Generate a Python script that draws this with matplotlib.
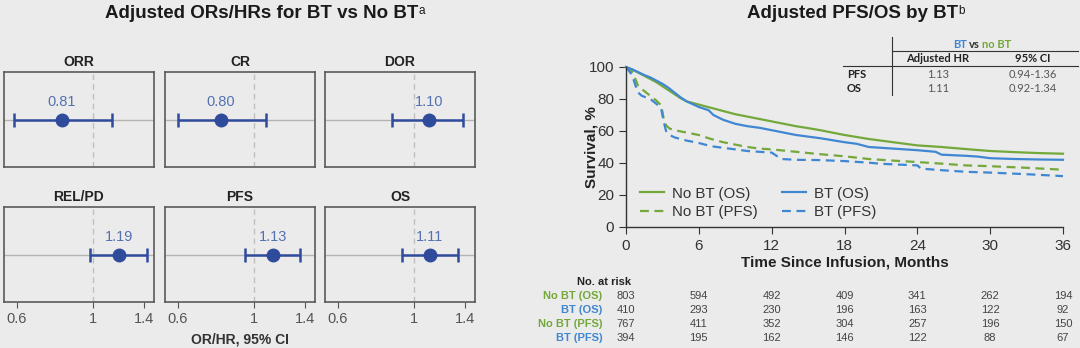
import numpy as np
import matplotlib
matplotlib.use("Agg")
import matplotlib.pyplot as plt
from matplotlib.transforms import blended_transform_factory
from matplotlib.lines import Line2D

plt.rcParams['font.family'] = ['Liberation Sans', 'DejaVu Sans']

BG = '#ebebeb'
GREEN = '#74a83a'
BLUE = '#3f87d2'
DOT = '#2f4b9b'
VAL = '#5471b0'

# forest panels: estimate and 95% CI
forest_labels = ['ORR', 'CR', 'DOR', 'REL/PD', 'PFS', 'OS']
forest_est = [0.81, 0.80, 1.10, 1.19, 1.13, 1.11]
forest_lo = [0.59, 0.60, 0.86, 0.98, 0.94, 0.92]
forest_hi = [1.13, 1.08, 1.38, 1.43, 1.36, 1.34]
forest_ticks = [0.6, 1, 1.4]

# Kaplan-Meier curves (months, % surviving)
t_nobt_os = [0, 0.5, 1, 1.5, 2, 2.5, 3, 3.5, 4, 4.5, 5, 6, 7, 8, 9, 10, 11, 12, 13, 14, 15, 16,
             18, 20, 22, 24, 26, 28, 30, 32, 34, 36]
s_nobt_os = [100, 98.5, 96.5, 94.5, 92.5, 90.5, 88, 85.5, 83, 80.5, 78.5, 76.5, 74.5, 72.5, 70.5,
             69, 67.5, 66, 64.5, 63, 61.8, 60.5, 57.5, 55, 53, 51, 50, 48.7, 47.5, 46.8, 46.2, 45.8]

t_bt_os = [0, 0.5, 1, 1.5, 2, 2.5, 3, 3.5, 4, 4.5, 5, 6, 6.8, 7.2, 8, 9, 10, 11, 12, 13, 14, 15,
           16, 18, 19, 20, 22, 24, 25.5, 26, 28, 29, 30, 32, 34, 36]
s_bt_os = [100, 98.5, 96.8, 95, 93.5, 91.5, 89.5, 87, 84, 81, 78.5, 75, 73, 70, 67, 64.5, 63, 62,
           60.5, 59, 57.5, 56.5, 55.5, 53, 52, 50, 49, 48, 47, 45.2, 44.5, 44, 43, 42.5, 42.2, 42]

t_nobt_pfs = [0, 0.5, 0.8, 1, 1.5, 2, 2.5, 2.9, 3.1, 3.3, 3.6, 4, 5, 6, 7, 8, 9, 10, 11, 12, 14,
              16, 18, 20, 22, 24, 26, 28, 30, 33, 36]
s_nobt_pfs = [100, 97, 92, 88, 85, 82, 79, 76, 68, 63.5, 61.5, 60.5, 59, 57.5, 55, 53, 51.5, 50,
              49, 48.5, 47, 45.5, 44.2, 42.5, 41.5, 40.6, 39.6, 38.5, 38, 37, 35.8]

t_bt_pfs = [0, 0.5, 0.8, 1, 1.3, 2, 2.5, 2.9, 3.1, 3.3, 3.6, 4, 5, 6, 7, 8, 9, 10, 11, 12, 12.8,
            14, 16, 18, 20, 21, 24, 24.3, 26, 28, 30, 33, 36]
s_bt_pfs = [100, 95, 88, 84, 82, 80, 77, 74, 66, 60, 57.5, 56, 54, 52.5, 50.5, 49.5, 48.5, 47.5,
            47, 46.5, 42.5, 42, 41.8, 41.2, 40.2, 39.5, 38.5, 36.5, 35.5, 34.5, 34, 33, 31.8]

risk_times = [0, 6, 12, 18, 24, 30, 36]
risk_labels = ['No BT (OS)', 'BT (OS)', 'No BT (PFS)', 'BT (PFS)']
risk_nobt_os = [803, 594, 492, 409, 341, 262, 194]
risk_bt_os = [410, 293, 230, 196, 163, 122, 92]
risk_nobt_pfs = [767, 411, 352, 304, 257, 196, 150]
risk_bt_pfs = [394, 195, 162, 146, 122, 88, 67]

# HR table
hr_rows = ['PFS', 'OS']
hr_vals = ['1.13', '1.11']
hr_ci = ['0.94-1.36', '0.92-1.34']


def fx(px):
    return px / 1080


def fy(py):
    return 1 - py / 348


fig = plt.figure(figsize=(10.8, 3.48), dpi=100, facecolor=BG)
renderer = fig.canvas.get_renderer()


def title_with_note(x, text, note):
    # bold heading with a small raised footnote letter after it
    t = fig.text(fx(x), fy(13), text, ha='center', va='center', fontsize=13.5,
                 fontweight='bold', color='#1a1a1a')
    bb = t.get_window_extent(renderer)
    fig.text(bb.x1 / 1080, bb.y1 / 348 - 0.002, note, ha='left', va='top',
             fontsize=8.5, color='#1a1a1a')


# ---- left: forest panels ----
title_with_note(262, 'Adjusted ORs/HRs for BT vs No BT', 'a')

lefts = [4, 165, 325]
tops = [72, 207]
for i, name in enumerate(forest_labels):
    r, c = divmod(i, 3)
    ax = fig.add_axes([fx(lefts[c]), fy(tops[r] + 95), 150 / 1080, 95 / 348])
    ax.set_facecolor(BG)
    ax.set_xscale('log')
    ax.set_xlim(0.55, 1.5)
    ax.set_ylim(-1, 1)
    ax.axhline(0, color='#b4b4b4', lw=1, zorder=1)
    ax.axvline(1, color='#c0c0c0', lw=1, ls=(0, (4, 3)), zorder=1)
    est = forest_est[i]
    ax.errorbar([est], [0], xerr=[[est - forest_lo[i]], [forest_hi[i] - est]], fmt='o',
                color=DOT, ms=9, elinewidth=1.8, capsize=5, capthick=1.8, zorder=3)
    ax.text(est, 0.36, f'{est:.2f}', ha='center', va='center', fontsize=10.5, color=VAL)
    ax.set_title(name, fontsize=10, fontweight='bold', color='#222', pad=4)
    ax.set_yticks([])
    ax.xaxis.set_minor_locator(matplotlib.ticker.NullLocator())
    ax.set_xticks(forest_ticks)
    ax.set_xticklabels(['0.6', '1', '1.4'])
    if r == 0:
        ax.tick_params(axis='x', length=0, labelbottom=False)
    else:
        ax.tick_params(axis='x', length=4, color='#555', labelsize=10.5, labelcolor='#555')
    for sp in ax.spines.values():
        sp.set_color('#5a5a5a')
        sp.set_linewidth(1.2)

fig.text(fx(240), fy(339), 'OR/HR, 95% CI', ha='center', va='center', fontsize=10,
         fontweight='bold', color='#333')

# ---- right: Kaplan-Meier ----
title_with_note(853, 'Adjusted PFS/OS by BT', 'b')

km = fig.add_axes([fx(626), fy(227), 437 / 1080, 160 / 348])
km.set_facecolor(BG)
km.plot(t_nobt_os, s_nobt_os, color=GREEN, lw=1.6, label='No BT (OS)', clip_on=False)
km.plot(t_nobt_pfs, s_nobt_pfs, color=GREEN, lw=1.6, ls=(0, (4, 2.5)), label='No BT (PFS)',
        clip_on=False)
km.plot(t_bt_os, s_bt_os, color=BLUE, lw=1.6, label='BT (OS)', clip_on=False)
km.plot(t_bt_pfs, s_bt_pfs, color=BLUE, lw=1.6, ls=(0, (4, 2.5)), label='BT (PFS)',
        clip_on=False)
km.set_xlim(0, 36)
km.set_ylim(0, 100)
km.set_xticks(risk_times)
km.set_yticks([0, 20, 40, 60, 80, 100])
km.spines['top'].set_visible(False)
km.spines['right'].set_visible(False)
for sp in ('left', 'bottom'):
    km.spines[sp].set_color('#333')
    km.spines[sp].set_linewidth(1)
km.tick_params(length=5, color='#333', labelsize=11, labelcolor='#333')
km.set_xlabel('Time Since Infusion, Months', fontsize=11, fontweight='bold', color='#222',
              labelpad=2)
fig.text(fx(591), fy(147), 'Survival, %', rotation=90, ha='center', va='center', fontsize=11,
         fontweight='bold', color='#222')
km.legend(ncol=2, loc='lower left', bbox_to_anchor=(0.0, -0.035), frameon=False, fontsize=10.8,
          handlelength=1.6, columnspacing=1.6, labelspacing=0.3, labelcolor='#333',
          handletextpad=0.55)

# numbers at risk
tr = blended_transform_factory(km.transData, fig.transFigure)
fig.text(fx(577), fy(282), 'No. at risk', ha='left', va='center', fontsize=8,
         fontweight='bold', color='#222')
risk_rows = [risk_nobt_os, risk_bt_os, risk_nobt_pfs, risk_bt_pfs]
risk_colors = [GREEN, BLUE, GREEN, BLUE]
row_y = [296, 310, 324, 338]
for lab, counts, col, py in zip(risk_labels, risk_rows, risk_colors, row_y):
    km.text(-1.95, fy(py), lab, transform=tr, ha='right', va='center', fontsize=8,
            fontweight='bold', color=col, clip_on=False)
    for t, n in zip(risk_times, counts):
        km.text(t, fy(py), str(n), transform=tr, ha='center', va='center', fontsize=8,
                color='#444', clip_on=False)

# adjusted HR table
tf = dict(family=['Lato', 'DejaVu Sans'], fontsize=8, va='center')
fig.add_artist(Line2D([fx(892), fx(892)], [fy(37), fy(95)], color='#333', lw=0.8))
fig.add_artist(Line2D([fx(892), fx(1078)], [fy(51), fy(51)], color='#333', lw=0.8))
fig.add_artist(Line2D([fx(843), fx(1078)], [fy(66), fy(66)], color='#333', lw=0.8))
fig.text(fx(967), fy(45), 'BT', color=BLUE, ha='right', fontweight='bold', **tf)
fig.text(fx(974.5), fy(45), 'vs', color='#333', ha='center', fontweight='bold', **tf)
fig.text(fx(982), fy(45), 'no BT', color=GREEN, ha='left', fontweight='bold', **tf)
fig.text(fx(938), fy(59), 'Adjusted HR', color='#222', ha='center', fontweight='bold', **tf)
fig.text(fx(1033), fy(59), '95% CI', color='#222', ha='center', fontweight='bold', **tf)
for lab, v, ci, py in zip(hr_rows, hr_vals, hr_ci, [75, 89]):
    fig.text(fx(847), fy(py), lab, color='#222', ha='left', fontweight='bold', **tf)
    fig.text(fx(938), fy(py), v, color='#555', ha='center', **tf)
    fig.text(fx(1033), fy(py), ci, color='#555', ha='center', **tf)

fig.savefig('out.png', dpi=100, facecolor=BG)
